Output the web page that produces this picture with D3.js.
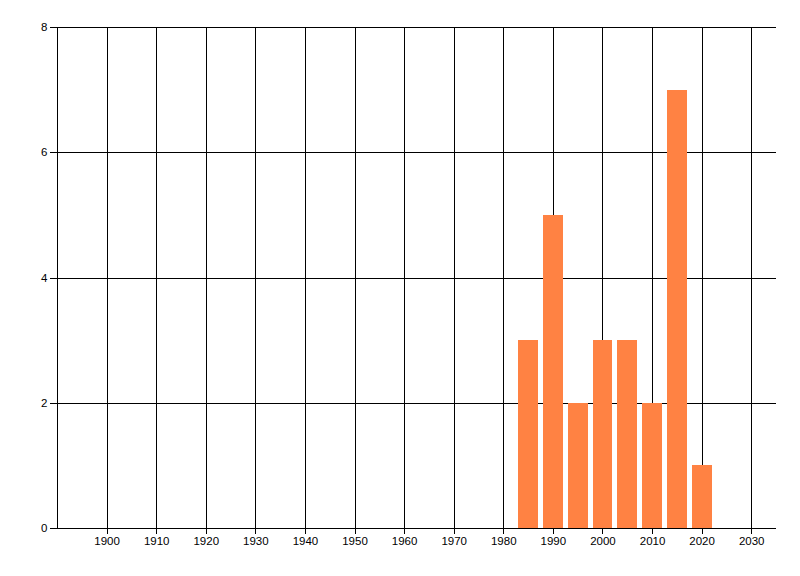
<!DOCTYPE html>
<html>
<head>
<meta charset="utf-8">
<script src="https://cdn.jsdelivr.net/npm/d3@7"></script>
<style>
  body { margin: 0; background: #fff; }
  text { font-family: "Liberation Sans", Arial, sans-serif; font-size: 11.5px; fill: #000; }
</style>
</head>
<body>
<div id="js_chart"></div>
<script>
// Data
const years = [1985, 1990, 1995, 2000, 2005, 2010, 2015, 2020];
const counts = [3, 5, 2, 3, 3, 2, 7, 1];
const xTicks = [1900, 1910, 1920, 1930, 1940, 1950, 1960, 1970, 1980, 1990, 2000, 2010, 2020, 2030];
const yTicks = [0, 2, 4, 6, 8];

const W = 800, H = 576;
const margin = {top: 27, right: 24, bottom: 48, left: 57};
const width = W - margin.left - margin.right,
      height = H - margin.top - margin.bottom;

let x = d3.scaleLinear().domain([1890, 2035]).range([0, width]);
let y = d3.scaleLinear().domain([0, 8]).range([height, 0]);

let svg = d3.select("#js_chart").append("svg")
    .attr("width", W).attr("height", H)
    .attr("shape-rendering", "crispEdges")
    .append("g")
    .attr("transform", "translate(" + margin.left + "," + margin.top + ")");

// Grid
svg.append("g").selectAll("line").data(xTicks).enter().append("line")
    .attr("x1", d => Math.round(x(d)) + 0.5).attr("x2", d => Math.round(x(d)) + 0.5)
    .attr("y1", 0).attr("y2", height)
    .attr("stroke", "#000");

svg.append("g").selectAll("line").data(yTicks.filter(d => d > 0)).enter().append("line")
    .attr("x1", 0).attr("x2", width)
    .attr("y1", d => Math.round(y(d)) + 0.5).attr("y2", d => Math.round(y(d)) + 0.5)
    .attr("stroke", "#000");

// Bars
svg.append("g").selectAll("rect").data(years).enter().append("rect")
    .attr("x", d => x(d - 2))
    .attr("width", (d) => x(d + 2) - x(d - 2))
    .attr("y", (d, i) => y(counts[i]))
    .attr("height", (d, i) => y(0) - y(counts[i]))
    .attr("fill", "#ff8243");

// Axes
svg.append("g")
    .attr("transform", "translate(0," + (Math.round(height) + 0.5) + ")")
    .call(d3.axisBottom(x).tickValues(xTicks).tickFormat(d3.format("d")).tickSize(5).tickPadding(3))
    .call(g => g.select(".domain").attr("d", "M0,0H" + width))
    .call(g => g.selectAll("text").style("font-size", "11.5px").style("font-family", "Liberation Sans, Arial, sans-serif").attr("fill", "#000"));

svg.append("g")
    .attr("transform", "translate(0.5,0)")
    .call(d3.axisLeft(y).tickValues(yTicks).tickSize(8).tickPadding(2))
    .call(g => g.select(".domain").attr("d", "M0,0V" + height))
    .call(g => g.selectAll("text").style("font-size", "11.5px").style("font-family", "Liberation Sans, Arial, sans-serif").attr("fill", "#000"));
</script>
</body>
</html>
